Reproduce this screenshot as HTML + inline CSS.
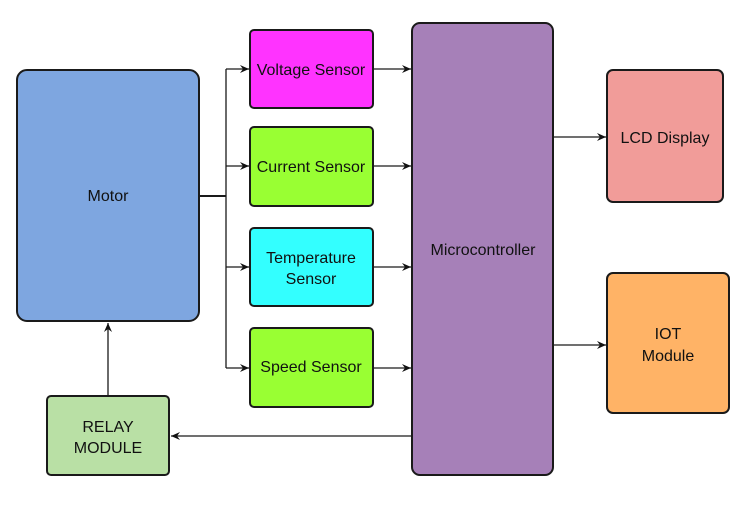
<!DOCTYPE html>
<html><head><style>body{margin:0;background:#fff}svg{display:block}text{font-family:"Liberation Sans",Arial,sans-serif;font-size:16px;fill:#111;text-anchor:middle}</style></head>
<body>
<svg width="754" height="507" viewBox="0 0 754 507" xmlns="http://www.w3.org/2000/svg">
<defs><marker id="a" markerWidth="10" markerHeight="10" refX="9" refY="5" orient="auto" markerUnits="userSpaceOnUse"><path d="M0,1 L9,5 L0,9 L3,5 z" fill="#111"/></marker></defs>
<g stroke="#1a1a1a" stroke-width="2">
<rect x="17" y="70" width="182" height="251" rx="10" fill="#7ea6e0"/>
<rect x="250" y="30" width="123" height="78" rx="4" fill="#ff33ff"/>
<rect x="250" y="127" width="123" height="79" rx="4" fill="#99ff33"/>
<rect x="250" y="228" width="123" height="78" rx="4" fill="#33ffff"/>
<rect x="250" y="328" width="123" height="79" rx="4" fill="#99ff33"/>
<rect x="412" y="23" width="141" height="452" rx="8" fill="#a680b8"/>
<rect x="607" y="70" width="116" height="132" rx="6" fill="#f19c99"/>
<rect x="607" y="273" width="122" height="140" rx="6" fill="#ffb366"/>
<rect x="47" y="396" width="122" height="79" rx="4" fill="#b9e0a5"/>
</g>
<g stroke="#1a1a1a" stroke-width="1.3" fill="none">
<path d="M199 196 H226" stroke-width="2"/>
<path d="M226 69 V368"/>
<path d="M226 69 H249" marker-end="url(#a)"/>
<path d="M226 166 H249" marker-end="url(#a)"/>
<path d="M226 267 H249" marker-end="url(#a)"/>
<path d="M226 368 H249" marker-end="url(#a)"/>
<path d="M373 69 H411" marker-end="url(#a)"/>
<path d="M373 166 H411" marker-end="url(#a)"/>
<path d="M373 267 H411" marker-end="url(#a)"/>
<path d="M373 368 H411" marker-end="url(#a)"/>
<path d="M553 137 H606" marker-end="url(#a)"/>
<path d="M553 345 H606" marker-end="url(#a)"/>
<path d="M412 436 H171" marker-end="url(#a)"/>
<path d="M108 396 V323" marker-end="url(#a)"/>
</g>
<text x="108" y="201">Motor</text>
<text x="311" y="75">Voltage Sensor</text>
<text x="311" y="172">Current Sensor</text>
<text x="311" y="263">Temperature</text>
<text x="311" y="284">Sensor</text>
<text x="311" y="372">Speed Sensor</text>
<text x="483" y="255">Microcontroller</text>
<text x="665" y="143">LCD Display</text>
<text x="668" y="339">IOT</text>
<text x="668" y="361">Module</text>
<text x="108" y="432">RELAY</text>
<text x="108" y="453">MODULE</text>
</svg>
</body></html>
